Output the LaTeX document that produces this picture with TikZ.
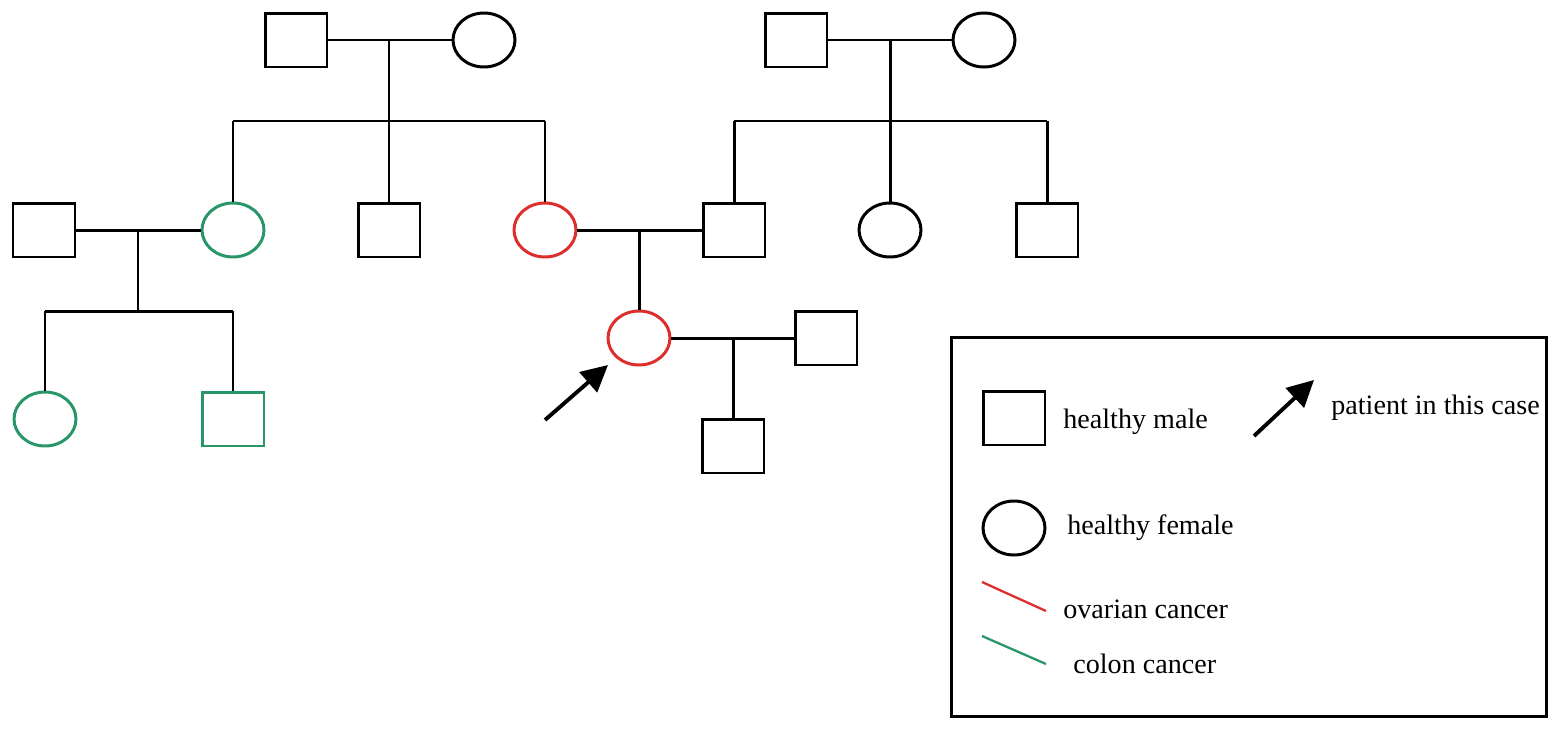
\documentclass[tikz,border=0pt]{standalone}
\usepackage{fontspec}
\setmainfont{Liberation Serif}
\usetikzlibrary{arrows.meta,shapes.geometric}
\definecolor{ovred}{RGB}{222,45,45}
\definecolor{cogreen}{RGB}{40,150,105}
\tikzset{
  male/.style={draw, line width=1.7pt, minimum width=1.24cm, minimum height=1.08cm, inner sep=0pt},
  female/.style={draw, ellipse, line width=1.7pt, minimum width=1.24cm, minimum height=1.08cm, inner sep=0pt},
  link/.style={line width=1.7pt},
  ptarrow/.style={line width=2.2pt, -{Triangle[width=15pt,length=15pt]}},
  lab/.style={font=\fontsize{16}{19}\selectfont, anchor=west, inner sep=0pt},
}
\begin{document}
\begin{tikzpicture}[x=0.02cm, y=-0.02cm]
\useasboundingbox (0,0) rectangle (1559,731);
% generation I
\node[male] (m1) at (296,40) {};
\node[female] (f1) at (484,40) {};
\node[male] (m2) at (796,40) {};
\node[female] (f2) at (984,40) {};
% generation II
\node[male] (m3) at (44,230) {};
\node[female, draw=cogreen] (f3) at (233,230) {};
\node[male] (m4) at (389,230) {};
\node[female, draw=ovred] (f4) at (545,230) {};
\node[male] (m5) at (734,230) {};
\node[female] (f5) at (890,230) {};
\node[male] (m6) at (1047,230) {};
% generation III
\node[female, draw=cogreen] (f6) at (45,419) {};
\node[male, draw=cogreen] (m7) at (233,419) {};
\node[female, draw=ovred] (f7) at (639,338) {};
\node[male] (m8) at (826,338) {};
% generation IV
\node[male] (m9) at (733,446) {};
% coordinates
\coordinate (c1) at (389,40);
\coordinate (s1) at (389,121);
\coordinate (s1l) at (233,121);
\coordinate (s1r) at (545,121);
\coordinate (c2) at (890,40);
\coordinate (s2) at (890,121);
\coordinate (s2l) at (734,121);
\coordinate (s2r) at (1047,121);
\coordinate (c3) at (138,230);
\coordinate (s3) at (138,311);
\coordinate (s3l) at (45,311);
\coordinate (s3r) at (233,311);
\coordinate (c4) at (639,230);
\coordinate (c5) at (733,338);
% connectors
\draw[link] (m1.east) -- (f1.west);
\draw[link] (c1) -- (s1);
\draw[link] (s1l) -- (s1r);
\draw[link] (s1l) -- (f3.north);
\draw[link] (s1) -- (m4.north);
\draw[link] (s1r) -- (f4.north);
\draw[link] (m2.east) -- (f2.west);
\draw[link] (c2) -- (s2);
\draw[link] (s2l) -- (s2r);
\draw[link] (s2l) -- (m5.north);
\draw[link] (s2) -- (f5.north);
\draw[link] (s2r) -- (m6.north);
\draw[link] (m3.east) -- (f3.west);
\draw[link] (c3) -- (s3);
\draw[link] (s3l) -- (s3r);
\draw[link] (s3l) -- (f6.north);
\draw[link] (s3r) -- (m7.north);
\draw[link] (f4.east) -- (m5.west);
\draw[link] (c4) -- (f7.north);
\draw[link] (f7.east) -- (m8.west);
\draw[link] (c5) -- (m9.north);
% patient arrow
\coordinate (pa0) at (545,420);
\coordinate (pa1) at (608,365);
\draw[ptarrow] (pa0) -- (pa1);
% legend
\node[draw, line width=1.7pt, minimum width=11.92cm, minimum height=7.6cm, inner sep=0pt] (leg) at (1249,527) {};
\node[male] (lm) at (1014,418) {};
\node[lab] (lmt) at (1063,422) {healthy male};
\node[female] (lf) at (1014,528) {};
\node[lab] (lft) at (1067,528) {healthy female};
\coordinate (la0) at (1254,436);
\coordinate (la1) at (1314,380);
\draw[ptarrow] (la0) -- (la1);
\node[lab] (lat) at (1331,408) {patient in this case};
\coordinate (lr0) at (982,582);
\coordinate (lr1) at (1046,611);
\draw[line width=1.3pt, ovred] (lr0) -- (lr1);
\node[lab] (lrt) at (1063,609) {ovarian cancer};
\coordinate (lg0) at (982,636);
\coordinate (lg1) at (1046,664);
\draw[line width=1.3pt, cogreen] (lg0) -- (lg1);
\node[lab] (lgt) at (1073,664) {colon cancer};
\end{tikzpicture}
\end{document}
